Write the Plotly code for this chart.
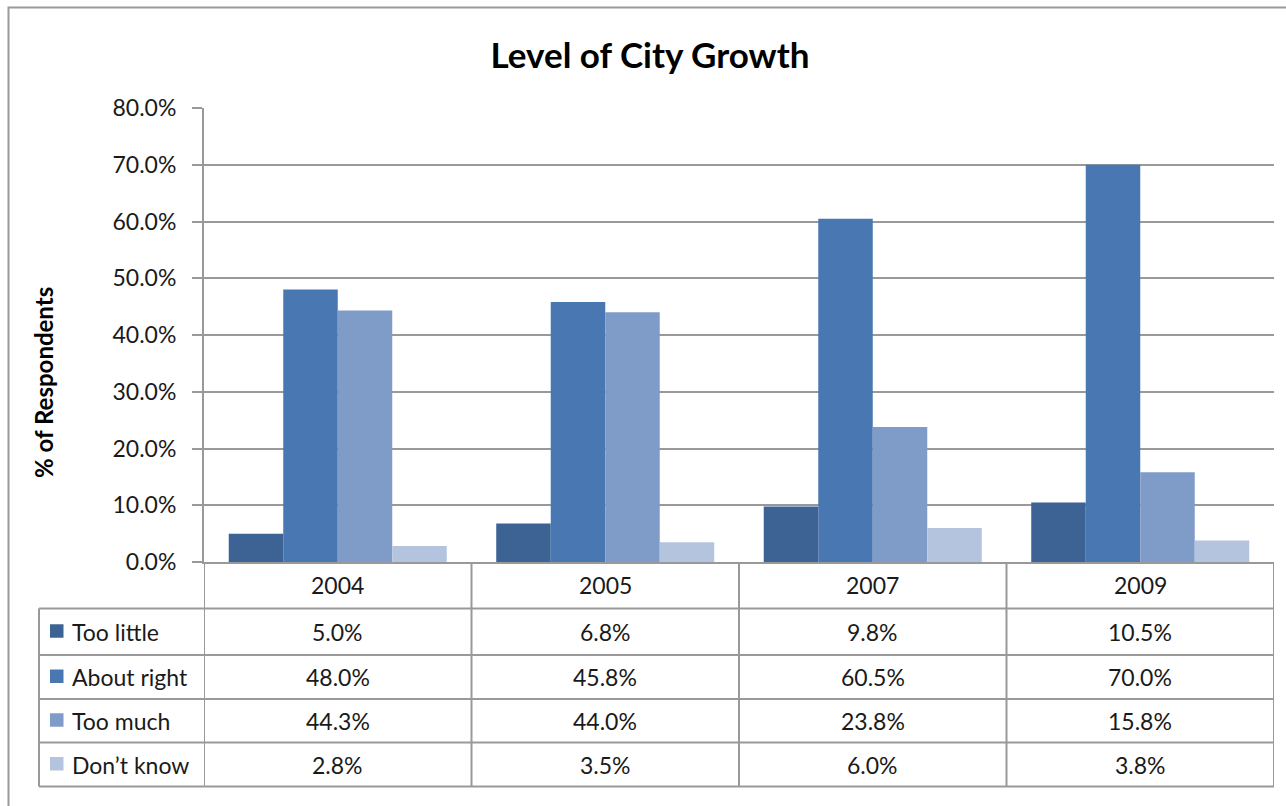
import plotly.graph_objects as go

# ---- data ----
years = ["2004", "2005", "2007", "2009"]
series_names = ["Too little", "About right", "Too much", "Don\u2019t know"]
too_little = [5.0, 6.8, 9.8, 10.5]
about_right = [48.0, 45.8, 60.5, 70.0]
too_much = [44.3, 44.0, 23.8, 15.8]
dont_know = [2.8, 3.5, 6.0, 3.8]
series_values = [too_little, about_right, too_much, dont_know]
y_ticks = [0, 10, 20, 30, 40, 50, 60, 70, 80]

# ---- style ----
colors = ["#3C6394", "#4877B2", "#7F9BC8", "#B4C4DF"]
FONT = "Lato"
TXT = "#1a1a1a"
LINE = "#999999"
FS = 23

W, H = 1286, 806
L, R, T, B = 204, 12, 108, 244
PW, PH = W - L - R, H - T - B


def px_x(px):
    return (px - L) / PW


def px_y(py):
    return (H - B - py) / PH


fig = go.Figure()
for name, vals, col in zip(series_names, series_values, colors):
    fig.add_trace(go.Bar(x=years, y=vals, name=name, marker_color=col,
                         marker_line_width=0))

shapes = []
annotations = []

# outer border
shapes.append(dict(type="rect", xref="paper", yref="paper",
                   x0=px_x(8.5), x1=px_x(1300), y0=px_y(7.5), y1=px_y(830),
                   line=dict(color="#9a9a9a", width=2), layer="below"))

# table geometry
row_lines = [608.5, 655, 699, 742.5, 786.5]
table_left = 39
for yl in row_lines:
    shapes.append(dict(type="line", xref="paper", yref="paper",
                       x0=px_x(table_left), x1=1, y0=px_y(yl), y1=px_y(yl),
                       line=dict(color=LINE, width=2)))
shapes.append(dict(type="line", xref="paper", yref="paper",
                   x0=px_x(table_left), x1=px_x(table_left),
                   y0=px_y(row_lines[0]), y1=px_y(row_lines[-1]),
                   line=dict(color=LINE, width=2)))
for i in range(len(years) + 1):
    xb = i - 0.5
    shapes.append(dict(type="line", xref="x", yref="paper",
                       x0=xb, x1=xb, y0=0, y1=px_y(row_lines[-1]),
                       line=dict(color=LINE, width=2)))

# header (years)
header_center = (562 + row_lines[0]) / 2
for i, yr in enumerate(years):
    annotations.append(dict(x=i, xref="x", y=px_y(header_center), yref="paper",
                            text=yr, showarrow=False, xanchor="center",
                            yanchor="middle",
                            font=dict(family=FONT, size=FS, color=TXT)))

# rows
for r, (name, vals, col) in enumerate(zip(series_names, series_values, colors)):
    yc = (row_lines[r] + row_lines[r + 1]) / 2
    shapes.append(dict(type="rect", xref="paper", yref="paper",
                       x0=px_x(50), x1=px_x(63.5), y0=px_y(yc - 7.5), y1=px_y(yc + 6),
                       fillcolor=col, line=dict(width=0)))
    annotations.append(dict(x=px_x(70), xref="paper", y=px_y(yc), yref="paper",
                            text=name, showarrow=False, xanchor="left",
                            yanchor="middle",
                            font=dict(family=FONT, size=FS, color=TXT)))
    for i, v in enumerate(vals):
        annotations.append(dict(x=i, xref="x", y=px_y(yc), yref="paper",
                                text=f"{v:.1f}%", showarrow=False,
                                xanchor="center", yanchor="middle",
                                font=dict(family=FONT, size=FS, color=TXT)))

# y axis title
annotations.append(dict(x=px_x(44), xref="paper", y=px_y(383), yref="paper",
                        text="<b>% of Respondents</b>", showarrow=False,
                        textangle=-90, xanchor="center", yanchor="middle",
                        font=dict(family=FONT, size=24, color="#000000")))

fig.update_layout(
    width=W, height=H,
    margin=dict(l=L, r=R, t=T, b=B),
    paper_bgcolor="white", plot_bgcolor="white",
    barmode="group", bargap=0.185, bargroupgap=0,
    showlegend=False,
    title=dict(text="<b>Level of City Growth</b>", xref="container", x=650 / W,
               xanchor="center", yref="container", y=1 - 56 / H, yanchor="middle",
               font=dict(family=FONT, size=35, color="#000000")),
    xaxis=dict(type="category", range=[-0.5, 3.5], showticklabels=False,
               showgrid=False, showline=True, linecolor=LINE, linewidth=2,
               ticks="", zeroline=False, fixedrange=True),
    yaxis=dict(range=[0, 80], tickvals=y_ticks,
               ticktext=[f"{v:.1f}%" for v in y_ticks],
               showgrid=True, gridcolor=LINE, gridwidth=2,
               showline=True, linecolor=LINE, linewidth=2,
               ticks="outside", ticklen=10, tickcolor=LINE, tickwidth=2,
               ticklabelstandoff=11, zeroline=False,
               tickfont=dict(family=FONT, size=FS, color=TXT)),
    shapes=shapes, annotations=annotations,
)

fig.write_html("out.html",
               config={"displayModeBar": False},
               post_script="document.body.style.margin='0px';"
                           "document.body.style.overflow='hidden';")
